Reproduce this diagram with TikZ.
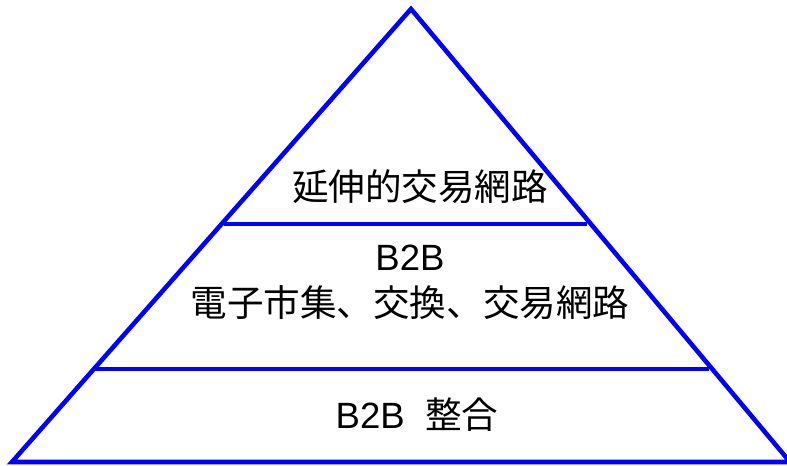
\documentclass[tikz,border=0pt]{standalone}
\usepackage{fontspec}
\setmainfont{Liberation Sans}
\newfontfamily\cjk{Noto Sans CJK JP}
\usepackage{tikz}
\newcommand{\edgecolor}{blue}
\newcommand{\sidewidth}{1.3pt}
\newcommand{\tierwidth}{1pt}
\tikzset{
  side/.style={draw=\edgecolor, line width=\sidewidth, line join=miter},
  tier/.style={draw=\edgecolor, line width=\tierwidth},
  label/.style={font=\fontsize{10.4}{13}\selectfont, align=center, inner sep=0pt}
}

\begin{document}
\begin{tikzpicture}
\useasboundingbox (0,0) rectangle (7.87,4.66);
\coordinate (top) at (4.11, 4.57);
\coordinate (left) at (0.12, 0.04);
\coordinate (right) at (7.90, 0.04);
\coordinate (t1a) at (2.24, 2.42);
\coordinate (t1b) at (5.87, 2.42);
\coordinate (t2a) at (0.95, 0.97);
\coordinate (t2b) at (7.09, 0.97);
%outline
\draw[side] (left) -- (top) -- (right) -- cycle;
%tiers
\draw[tier] (t1a) -- (t1b);
\draw[tier] (t2a) -- (t2b);
%labels
\node[label] (net) at (4.20, 2.79) {\cjk 延伸的交易網路};
\node[label] (market) at (4.10, 1.84) {B2B\\{\cjk 電子市集、交換、交易網路}};
\node[label] (integ) at (4.17, 0.51) {B2B~ {\cjk 整合}};
\end{tikzpicture}
\end{document}
